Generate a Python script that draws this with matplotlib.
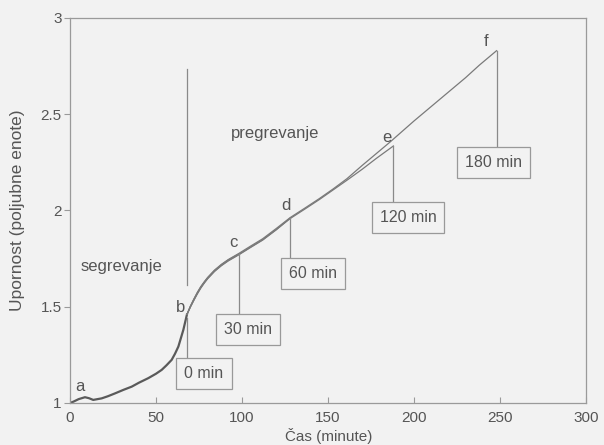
import matplotlib
matplotlib.use('Agg')
import matplotlib.pyplot as plt

plt.rcParams['font.family'] = ['Liberation Sans', 'DejaVu Sans']

# segrevanje (heating) - common to all samples, ends at point b
heat_t = [0, 2, 5, 8.7, 11, 13.5, 18.4, 22, 26.2, 31, 35.9, 40, 45.5, 50, 53.3, 56, 59.1, 61, 63, 65.9, 68]
heat_r = [1.0, 1.007, 1.02, 1.03, 1.025, 1.016, 1.024, 1.035, 1.05, 1.068, 1.085, 1.105, 1.129, 1.152, 1.172,
          1.195, 1.224, 1.255, 1.293, 1.38, 1.46]

# pregrevanje (holding) runs, each starting at b
run30_t = [68, 70, 72, 74, 76, 78, 80, 84, 88, 92, 98]
run30_r = [1.46, 1.502, 1.538, 1.572, 1.602, 1.627, 1.65, 1.688, 1.718, 1.743, 1.773]

run60_t = [68, 70, 72, 74, 76, 78, 80, 84, 88, 92, 98, 105, 112, 120, 128]
run60_r = [1.46, 1.498, 1.533, 1.566, 1.596, 1.622, 1.645, 1.683, 1.713, 1.738, 1.769, 1.808, 1.846, 1.9, 1.96]

run120_t = [68, 70, 72, 74, 76, 78, 80, 84, 88, 92, 98, 105, 112, 120, 128, 137, 145, 153, 161, 170, 178, 188]
run120_r = [1.46, 1.5, 1.535, 1.569, 1.599, 1.624, 1.647, 1.685, 1.715, 1.74, 1.771, 1.81, 1.848, 1.902, 1.958,
            2.01, 2.057, 2.107, 2.157, 2.215, 2.27, 2.335]

run180_t = [68, 70, 72, 74, 76, 78, 80, 84, 88, 92, 98, 105, 112, 120, 128, 137, 145, 153, 161, 170, 178, 186,
            193, 200, 210, 220, 230, 238, 248]
run180_r = [1.46, 1.503, 1.54, 1.574, 1.604, 1.629, 1.652, 1.69, 1.72, 1.745, 1.776, 1.815, 1.853, 1.907, 1.963,
            2.015, 2.062, 2.112, 2.165, 2.235, 2.295, 2.355, 2.41, 2.465, 2.54, 2.615, 2.69, 2.755, 2.83]

durations = [0, 30, 60, 120, 180]
duration_labels = ['0 min', '30 min', '60 min', '120 min', '180 min']
point_letters = ['b', 'c', 'd', 'e', 'f']

bg = '#f2f2f2'
line_col = '#8a8a8a'
text_col = '#555555'

fig = plt.figure(figsize=(6.04, 4.45), dpi=100, facecolor=bg)
ax = fig.add_axes([0.1159, 0.0944, 0.8543, 0.8652], facecolor=bg)

ax.plot(heat_t, heat_r, color='#5a5a5a', lw=1.6)
runs = [(run30_t, run30_r), (run60_t, run60_r), (run120_t, run120_r), (run180_t, run180_r)]
for t, r in runs:
    ax.plot(t, r, color='#7a7a7a', lw=0.9)

# phase separator
ax.plot([68, 68], [1.615, 2.735], color=line_col, lw=0.9)
ax.text(30, 1.71, 'segrevanje', color=text_col, fontsize=12, ha='center', va='center')
ax.text(119, 2.40, 'pregrevanje', color=text_col, fontsize=12, ha='center', va='center')

ax.text(6, 1.085, 'a', color=text_col, fontsize=12, ha='center', va='center')

# end points of each run and their callout boxes
ends_t = [heat_t[-1], run30_t[-1], run60_t[-1], run120_t[-1], run180_t[-1]]
ends_r = [heat_r[-1], run30_r[-1], run60_r[-1], run120_r[-1], run180_r[-1]]
box_x = [77.9, 103.5, 141.3, 196.5, 246.2]
box_y = [1.151, 1.383, 1.672, 1.966, 2.247]
box_top = [1.234, 1.469, 1.745, 2.049, 2.332]
letter_dx = [-3.5, -3, -2.5, -4, -6]
letter_dy = [0.035, 0.06, 0.065, 0.045, 0.05]

for t, r, bx, by, top, lab, let, dx, dy in zip(ends_t, ends_r, box_x, box_y, box_top, duration_labels,
                                                 point_letters, letter_dx, letter_dy):
    start = r - 0.02 if lab == '0 min' else r
    ax.plot([t, t], [start, top], color=line_col, lw=0.9)
    ax.text(bx, by, lab, color=text_col, fontsize=11.5, ha='center', va='center',
            bbox=dict(boxstyle='square,pad=0.5', fc=bg, ec='#999999', lw=0.9))
    ax.text(t + dx, r + dy, let, color=text_col, fontsize=12, ha='center', va='center')

ax.set_xlim(0, 300)
ax.set_ylim(1, 3)
ax.set_xticks(range(0, 301, 50))
ax.set_yticks([1, 1.5, 2, 2.5, 3])
ax.set_yticklabels(['1', '1.5', '2', '2.5', '3'])

for s in ax.spines.values():
    s.set_color('#9a9a9a')
    s.set_linewidth(0.9)

ax.tick_params(axis='x', direction='in', length=4, color='#9a9a9a', labelcolor=text_col, labelsize=11, pad=6)
ax.tick_params(axis='y', direction='out', length=4, color='#9a9a9a', labelcolor=text_col, labelsize=11, pad=2)

ax.set_xlabel('Čas (minute)', color=text_col, fontsize=11)
ax.set_ylabel('Upornost (poljubne enote)', color=text_col, fontsize=12.5)
ax.xaxis.set_label_coords(0.502, -0.066)
ax.yaxis.set_label_coords(-0.087, 0.5)

fig.savefig('out.png', dpi=100, facecolor=bg)
